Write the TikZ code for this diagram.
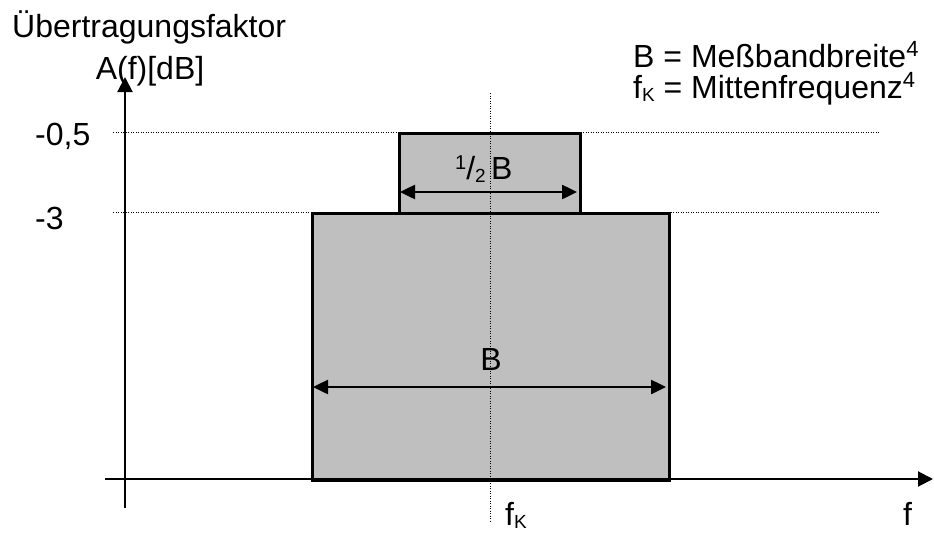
\documentclass[tikz,border=0pt]{standalone}
\usepackage{fontspec}
\setmainfont{Liberation Sans}
\usetikzlibrary{arrows.meta}
\newcommand\mysup[1]{\raisebox{11pt}{\fontsize{22}{22}\selectfont #1}}
\newcommand\mysub[1]{\raisebox{-3pt}{\fontsize{19}{19}\selectfont #1}}
\begin{document}
\begin{tikzpicture}[x=1pt,y=-1pt,
  lbl/.style={font=\fontsize{32}{37}\selectfont, inner sep=0pt},
  axis/.style={line width=2pt, -{Triangle[length=15pt,width=15pt]}},
  box/.style={draw=black, line width=3pt, fill=black!25, inner sep=0pt},
  guide/.style={line width=1pt, dash pattern=on 1pt off 1.5pt},
  dim/.style={line width=2.5pt, {Triangle[length=15pt,width=14pt]}-{Triangle[length=15pt,width=14pt]}}]
\useasboundingbox (0,0) rectangle (934,533);
% guide lines
\coordinate (g1l) at (113,132); \coordinate (g1r) at (880,132);
\coordinate (g3l) at (113,212); \coordinate (g3r) at (880,212);
\draw[guide] (g1l) -- (g1r);
\draw[guide] (g3l) -- (g3r);
% boxes
\node[box, anchor=north west, minimum width=357pt, minimum height=267pt] (big) at (311,212) {};
\node[box, anchor=north west, minimum width=181pt, minimum height=80pt] (small) at (398,132) {};
% centre line
\coordinate (vt) at (490,93); \coordinate (vb) at (490,522);
\draw[guide] (vt) -- (vb);
% axes
\coordinate (yb) at (125,508); \coordinate (yt) at (125,77);
\coordinate (xl) at (105,479); \coordinate (xr) at (933,479);
\draw[axis] (yb) -- (yt);
\draw[axis] (xl) -- (xr);
% dimension arrows
\coordinate (s1) at (400,192); \coordinate (s2) at (577,192);
\draw[dim] (s1) -- (s2);
\coordinate (b1) at (313,387); \coordinate (b2) at (666,387);
\draw[dim] (b1) -- (b2);
% labels
\node[lbl, anchor=base west] (t1) at (12,37) {Übertragungsfaktor};
\node[lbl, anchor=base] (t2) at (150,79) {A(f)[dB]};
\node[lbl, anchor=base west] (m05) at (35,145) {-0,5};
\node[lbl, anchor=base west] (m3) at (35,229) {-3};
\node[lbl, anchor=base west] (r1) at (633,67) {B = Meßbandbreite\mysup{4}};
\node[lbl, anchor=base west] (r2) at (633,98) {f\mysub{K} = Mittenfrequenz\mysup{4}};
\node[lbl, anchor=base west] (half) at (455,179) {\raisebox{10pt}{\fontsize{20}{20}\selectfont 1}/\mysub{2}\,B};
\node[lbl, anchor=base] (bl) at (491,370) {B};
\node[lbl, anchor=base west] (fk) at (505,525) {f\mysub{K}};
\node[lbl, anchor=base west] (fl) at (903,525) {f};
\end{tikzpicture}
\end{document}
